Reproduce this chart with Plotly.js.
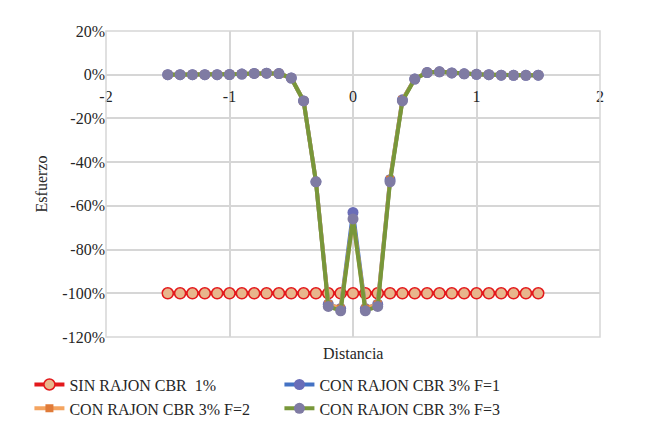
<!DOCTYPE html>
<html>
<head>
<meta charset="utf-8">
<script src="https://cdn.plot.ly/plotly-3.0.1.min.js"></script>
<style>
  body { margin: 0; background: #fff; }
  #chart { width: 650px; height: 442px; }
</style>
</head>
<body>
<div id="chart"></div>
<script>
// distancia (m) y esfuerzo relativo por serie
const distancia = [-1.5, -1.4, -1.3, -1.2, -1.1, -1.0, -0.9, -0.8, -0.7, -0.6, -0.5, -0.4, -0.3, -0.2, -0.1, 0,
  0.1, 0.2, 0.3, 0.4, 0.5, 0.6, 0.7, 0.8, 0.9, 1.0, 1.1, 1.2, 1.3, 1.4, 1.5];

const sinRajon = [-1, -1, -1, -1, -1, -1, -1, -1, -1, -1, -1, -1, -1, -1, -1, -1,
  -1, -1, -1, -1, -1, -1, -1, -1, -1, -1, -1, -1, -1, -1, -1];

const conF1 = [0, 0, 0, 0, 0, 0.001, 0.003, 0.006, 0.007, 0.005, -0.015, -0.12, -0.49, -1.05, -1.07, -0.63,
  -1.07, -1.05, -0.48, -0.115, -0.02, 0.01, 0.013, 0.008, 0.004, 0.002, 0, -0.002, -0.003, -0.003, -0.002];
const conF2 = [0, 0, 0, 0, 0, 0.001, 0.003, 0.006, 0.007, 0.005, -0.015, -0.12, -0.49, -1.05, -1.07, -0.66,
  -1.07, -1.05, -0.48, -0.115, -0.02, 0.01, 0.013, 0.008, 0.004, 0.002, 0, -0.002, -0.003, -0.003, -0.002];
const conF3 = [0, 0, 0, 0, 0, 0.001, 0.003, 0.006, 0.007, 0.005, -0.015, -0.12, -0.49, -1.06, -1.08, -0.66,
  -1.08, -1.06, -0.49, -0.12, -0.02, 0.01, 0.013, 0.008, 0.004, 0.002, 0, -0.002, -0.003, -0.003, -0.002];

// etiquetas de ejes (guion simple, como en el original)
const xTicks = [-2, -1, 0, 1, 2];
const xLabels = ['-2', '-1', '0', '1', '2'];
const yTicks = [0.2, 0, -0.2, -0.4, -0.6, -0.8, -1.0, -1.2];
const yLabels = ['20%', '0%', '-20%', '-40%', '-60%', '-80%', '-100%', '-120%'];

function serif(size) {
  return { family: 'Liberation Serif', size: size, color: '#262626' };
}

const traces = [
  {
    x: distancia, y: sinRajon, name: 'SIN RAJON CBR  1%', mode: 'lines+markers',
    line: { color: '#E3191C', width: 4 },
    marker: { size: 11, color: '#E8B68C', line: { color: '#E3191C', width: 1.5 } }
  },
  {
    x: distancia, y: conF1, name: 'CON RAJON CBR 3% F=1', mode: 'lines+markers',
    line: { color: '#4472C4', width: 4 },
    marker: { size: 11, color: '#6A6DB8' }
  },
  {
    x: distancia, y: conF2, name: 'CON RAJON CBR 3% F=2', mode: 'lines+markers',
    line: { color: '#F4A460', width: 4 },
    marker: { size: 8, color: '#E07B39', symbol: 'square' }
  },
  {
    x: distancia, y: conF3, name: 'CON RAJON CBR 3% F=3', mode: 'lines+markers',
    line: { color: '#78973A', width: 4 },
    marker: { size: 11, color: '#7F7BA3' }
  }
];

const layout = {
  width: 650, height: 442,
  margin: { l: 106, r: 50, t: 31, b: 105 },
  paper_bgcolor: '#fff', plot_bgcolor: '#fff',
  font: serif(16),
  showlegend: true,
  xaxis: {
    range: [-2, 2], tickvals: xTicks, ticktext: xLabels,
    showgrid: true, gridcolor: '#D6D6D6', gridwidth: 1.5,
    zeroline: false, showline: false, ticks: '',
    anchor: 'free', position: 120 / 140, ticklabelstandoff: 10,
    tickfont: serif(16)
  },
  yaxis: {
    range: [-1.2, 0.2], tickvals: yTicks, ticktext: yLabels,
    showgrid: true, gridcolor: '#D6D6D6', gridwidth: 1.5,
    zeroline: false, showline: false, ticks: '',
    title: { text: 'Esfuerzo', font: serif(16), standoff: 10 },
    tickfont: serif(16)
  },
  shapes: [
    { type: 'rect', xref: 'paper', yref: 'paper', x0: 0, x1: 1, y0: 0, y1: 1,
      line: { color: '#D6D6D6', width: 1.5 } }
  ],
  annotations: [
    { text: 'Distancia', xref: 'paper', yref: 'paper', x: 0.5, y: -0.02,
      yanchor: 'top', showarrow: false, font: serif(16) }
  ],
  legend: {
    orientation: 'h', x: -0.155, xanchor: 'left', y: -0.1, yanchor: 'top',
    entrywidth: 205, entrywidthmode: 'pixels',
    font: serif(16), tracegroupgap: 0
  }
};

Plotly.newPlot('chart', traces, layout, { displayModeBar: false, responsive: false });
</script>
</body>
</html>
